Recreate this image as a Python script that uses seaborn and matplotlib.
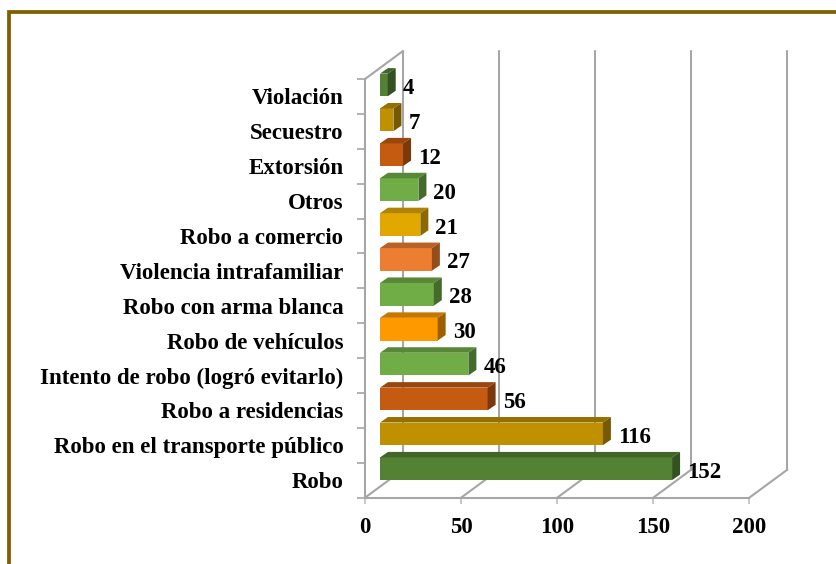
import matplotlib
matplotlib.use("Agg")
import matplotlib.pyplot as plt
import numpy as np
import pandas as pd
import seaborn as sns
from matplotlib.colors import to_rgb
from matplotlib.patches import Polygon, Rectangle
from matplotlib.transforms import Affine2D, IdentityTransform

categories = ["Violación", "Secuestro", "Extorsión", "Otros", "Robo a comercio",
              "Violencia intrafamiliar", "Robo con arma blanca", "Robo de vehículos",
              "Intento de robo (logró evitarlo)", "Robo a residencias",
              "Robo en el transporte público", "Robo"]
values = [4, 7, 12, 20, 21, 27, 28, 30, 46, 56, 116, 152]
colors = ["#548235", "#BF9000", "#C55A11", "#70AD47", "#E2A800", "#ED7D31",
          "#70AD47", "#FF9900", "#70AD47", "#C55A11", "#BF9000", "#548235"]
x_ticks = [0, 50, 100, 150, 200]

W, H = 836, 564
FS = 16.5
sns.set_theme(style="white")
plt.rcParams["font.family"] = ["Liberation Serif", "DejaVu Serif"]
plt.rcParams["font.weight"] = "bold"

fig = plt.figure(figsize=(W / 100, H / 100), dpi=100, facecolor="white")
L, R, T, B = 365, 749.3, 79, 497.7
ax = fig.add_axes([L / W, 1 - B / H, (R - L) / W, (B - T) / H])
ax.patch.set_alpha(0)

df = pd.DataFrame({"categoria": categories, "valor": values})
sns.barplot(data=df, x="valor", y="categoria", hue="categoria", palette=colors,
            order=categories, hue_order=categories, legend=False, width=0.65,
            orient="h", dodge=False, ax=ax, zorder=5, saturation=1)
ax.set_xlim(0, 200)
ax.set_ylim(len(categories) - 0.5, -0.5)
ax.autoscale(False)
ax.set_xlabel("")
ax.set_ylabel("")
ax.set_xticks(x_ticks)

GRID = "#A6A6A6"
DEPTH = (38, 28)
BAR_SHIFT = (15, 11.5)
BAR_DEPTH = (8, 5.5)
back = ax.transData + Affine2D().translate(*DEPTH)
shifted = ax.transData + Affine2D().translate(*BAR_SHIFT)
label_tr = ax.transData + Affine2D().translate(BAR_SHIFT[0] + 15, BAR_SHIFT[1] - 3.5)
ymin, ymax = ax.get_ylim()  # bottom, top in data units

# Back wall grid lines and floor / side-wall diagonals
for t in x_ticks:
    ax.plot([t, t], [ymin, ymax], color=GRID, lw=1.5, transform=back, clip_on=False, zorder=1)
    p0 = ax.transData.transform((t, ymin))
    ax.plot([p0[0], p0[0] + DEPTH[0]], [p0[1], p0[1] + DEPTH[1]], color=GRID, lw=1.5,
            transform=IdentityTransform(), clip_on=False, zorder=1)
p1 = ax.transData.transform((0, ymax))
ax.plot([p1[0], p1[0] + DEPTH[0]], [p1[1], p1[1] + DEPTH[1]], color=GRID, lw=1.5,
        transform=IdentityTransform(), clip_on=False, zorder=1)

# Extruded bars
def shade(c, f):
    return tuple(np.array(to_rgb(c)) * f)

for patch in list(ax.patches):
    x0, y0 = patch.get_x(), patch.get_y()
    w, h = patch.get_width(), patch.get_height()
    if w == 0:
        continue
    fc = patch.get_facecolor()
    patch.set_transform(shifted)
    patch.set_clip_on(False)
    patch.set_edgecolor("none")
    pts = shifted.transform([(x0, y0 + h), (x0 + w, y0 + h), (x0 + w, y0)])
    bl, br, tr = pts  # y0+h is the lower edge (inverted axis)
    tl = np.array([bl[0], tr[1]])
    d = np.array(BAR_DEPTH)
    ax.add_patch(Polygon([tl, tr, tr + d, tl + d], closed=True, facecolor=shade(fc[:3], 0.78),
                         edgecolor="none", transform=IdentityTransform(), clip_on=False, zorder=5))
    ax.add_patch(Polygon([br, tr, tr + d, br + d], closed=True, facecolor=shade(fc[:3], 0.62),
                         edgecolor="none", transform=IdentityTransform(), clip_on=False, zorder=5))

# Value labels
for i, v in enumerate(values):
    ax.text(v, i, str(v), transform=label_tr, ha="left", va="center",
            fontsize=FS, fontweight="bold", color="black", zorder=8, clip_on=False)

# Axes styling
for s in ("top", "right"):
    ax.spines[s].set_visible(False)
for s in ("left", "bottom"):
    ax.spines[s].set_color(GRID)
    ax.spines[s].set_linewidth(1.5)
ax.set_yticks(np.arange(len(categories) + 1) - 0.5, minor=True)
ax.tick_params(axis="y", which="minor", left=True, length=5.5, width=1.2, color=GRID)
ax.tick_params(axis="y", which="major", left=False, pad=9.5, labelsize=FS, labelcolor="black")
ax.tick_params(axis="x", bottom=True, length=4.5, width=1.2, color="#BFBFBF", pad=9.5,
               labelsize=FS, labelcolor="black")
for lab in ax.get_xticklabels() + ax.get_yticklabels():
    lab.set_fontweight("bold")

# Outer frame: only top and left edges appear in the picture
fig.add_artist(Rectangle((9 / W, -0.1), 1.2, 1.1 - 11.8 / H, transform=fig.transFigure,
                         fill=False, edgecolor="#7F6000", linewidth=2.7))

fig.savefig("out.png", dpi=100, facecolor="white")
